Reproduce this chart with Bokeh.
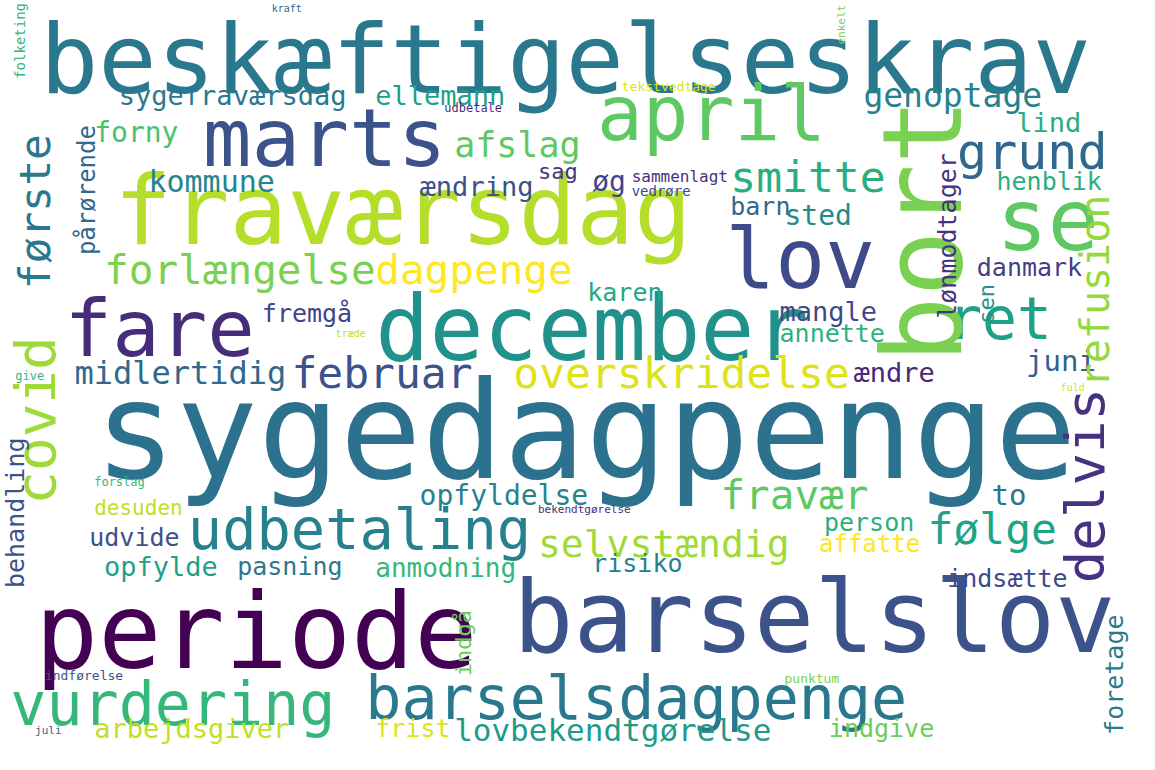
import numpy as np
from bokeh.plotting import figure
from bokeh.models import ColumnDataSource, Range1d
from bokeh.core.properties import value
from bokeh.embed import file_html
from bokeh.resources import INLINE

# Words of the cloud: text, left x (or centre x for vertical), centre y (or bottom y for vertical), font px, vertical flag, colour
words = ['beskæftigelseskrav', 'fraværsdag', 'marts', 'april', 'lov', 'se', 'fare', 'december',
         'sygedagpenge', 'periode', 'barselslov', 'barselsdagpenge', 'vurdering', 'udbetaling', 'ret',
         'grund', 'smitte', 'forlængelse', 'dagpenge', 'februar', 'overskridelse', 'fravær', 'følge',
         'selvstændig', 'midlertidig', 'sygefraværsdag', 'ellemann', 'genoptage', 'forny', 'afslag',
         'kommune', 'ændring', 'sag', 'øg', 'barn', 'sted', 'lind', 'henblik', 'danmark', 'fremgå',
         'mangle', 'annette', 'karen', 'juni', 'ændre', 'to', 'person', 'affatte', 'opfyldelse',
         'desuden', 'udvide', 'opfylde', 'pasning', 'anmodning', 'risiko', 'indsætte', 'arbejdsgiver',
         'frist', 'lovbekendtgørelse', 'indgive', 'tekstvedtage', 'sammenlagt', 'vedrøre', 'udbetale',
         'kraft', 'træde', 'give', 'fuld', 'forslag', 'bekendtgørelse', 'punktum', 'indførelse', 'juli',
         'bort', 'første', 'covid', 'delvis', 'refusion', 'pårørende', 'lønmodtager', 'sen',
         'behandling', 'indgå', 'foretage', 'folketing', 'enkelt']
word_x = [40, 115, 205, 605, 735, 1010, 65, 380,
          95, 35, 520, 370, 10, 190, 960,
          970, 740, 105, 380, 295, 520, 730, 940,
          545, 75, 120, 380, 875, 95, 460,
          150, 425, 545, 600, 740, 795, 1030, 1010, 990, 265,
          790, 790, 595, 1040, 865, 1005, 835, 830, 425,
          95, 90, 105, 240, 380, 600, 960, 95,
          380, 460, 840, 630, 640, 640, 450,
          275, 340, 15, 1075, 95, 545, 795, 45, 35,
          935, 35, 35, 1100, 1110, 88, 960, 1000,
          15, 470, 1130, 20, 853]
word_y = [60, 215, 140, 115, 265, 225, 335, 335,
          440, 645, 630, 712, 718, 540, 325,
          155, 180, 275, 275, 380, 380, 505, 540,
          555, 380, 97, 97, 97, 135, 148,
          185, 190, 175, 185, 210, 220, 125, 185, 273, 320,
          318, 340, 298, 368, 380, 505, 533, 555, 505,
          518, 548, 578, 578, 580, 575, 590, 743,
          743, 745, 743, 88, 180, 195, 110,
          8, 340, 383, 395, 492, 520, 692, 689, 745,
          370, 295, 515, 595, 395, 260, 325, 330,
          600, 690, 750, 80, 45]
word_size = [97, 96, 81, 76, 83, 85, 79, 90,
             136, 105, 100, 60, 60, 57, 58,
             50, 43, 41, 41, 43, 43, 41, 43,
             38, 32, 27, 27, 33, 28, 35,
             30, 27, 22, 28, 25, 28, 27, 25, 25, 25,
             27, 25, 25, 29, 27, 29, 25, 24, 28,
             21, 25, 27, 25, 26, 25, 25, 27,
             25, 31, 25, 13, 16, 14, 12,
             10, 10, 12, 10, 12, 11, 13, 13, 11,
             110, 43, 56, 54, 40, 24, 25, 22,
             25, 22, 25, 14, 11]
word_vertical = [0] * 73 + [1] * 13
word_color = ['#2a788e', '#b5de2b', '#3b528b', '#5ec962', '#3e4a89', '#5ec962', '#472c7a', '#21918c',
              '#2c728e', '#440154', '#3b528b', '#2a788e', '#35b779', '#27808e', '#1fa187',
              '#31688e', '#28ae80', '#7ad151', '#fde725', '#3b528b', '#dde318', '#5ec962', '#20a486',
              '#a0da39', '#31688e', '#2a788e', '#1f9e89', '#27808e', '#4ac16d', '#5ec962',
              '#25848e', '#3b528b', '#46337e', '#414487', '#31688e', '#23898e', '#27ad81', '#29af7f', '#433e85', '#414487',
              '#3e4989', '#2db27d', '#22a884', '#355f8d', '#482878', '#2c728e', '#29af7f', '#fde725', '#26828e',
              '#bddf26', '#3b528b', '#1fa187', '#2a788e', '#35b779', '#277f8e', '#3e4989', '#c2df23',
              '#dde318', '#1f9a8a', '#6ccd5a', '#dde318', '#46337e', '#3e4989', '#472c7a',
              '#31688e', '#bddf26', '#35b779', '#d8e219', '#35b779', '#472c7a', '#7ad151', '#3b528b', '#31688e',
              '#7ad151', '#2a788e', '#9fda3a', '#46327e', '#95d840', '#31688e', '#46327e', '#20928c',
              '#3b528b', '#6ccd5a', '#2a788e', '#35b779', '#7ad151']

source = ColumnDataSource(dict(
    x=word_x, y=word_y, text=words,
    size=[f'{s}px' for s in word_size],
    angle=[np.pi / 2 if v else 0 for v in word_vertical],
    color=word_color,
))

p = figure(width=1139, height=754, output_backend="svg", toolbar_location=None,
           x_range=Range1d(0, 1155), y_range=Range1d(770, 0), min_border=0)
p.axis.visible = False
p.grid.visible = False
p.outline_line_color = None
p.background_fill_color = 'white'

p.text(x='x', y='y', text='text', angle='angle', text_color='color',
       text_font_size='size', text_font=value("DejaVu Sans Mono"),
       text_align='left', text_baseline='middle', source=source)

open("out.html", "w").write(file_html(p, INLINE))
